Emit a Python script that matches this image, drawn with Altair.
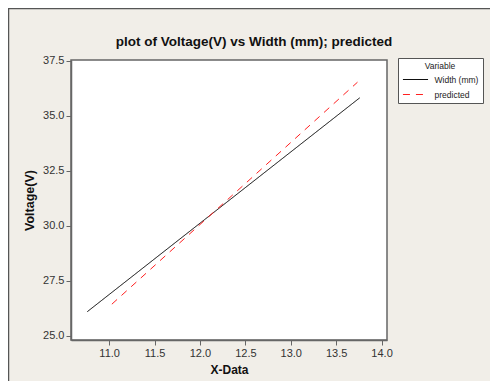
import altair as alt
import pandas as pd

series = ["Width (mm)", "Width (mm)", "predicted", "predicted"]
x_vals = [10.76, 13.76, 11.03, 13.735]
y_vals = [26.09, 35.82, 26.43, 36.53]
title_text = "plot of Voltage(V) vs Width (mm); predicted"

df = pd.DataFrame({"Variable": series, "X-Data": x_vals, "Voltage": y_vals})

W, H = 316, 280
PL, PT, PR, PB = 63, 52, 103, 41

leg = alt.Legend(title="Variable", orient="none", legendX=327, legendY=-2,
                 labelExpr="datum.label + '\u00a0\u00a0\u00a0\u00a0\u00a0\u00a0\u00a0'")

lines = alt.Chart(df).mark_line(strokeWidth=1, clip=True).encode(
    x=alt.X("X-Data:Q", scale=alt.Scale(domain=[10.58, 14.06], nice=False, zero=False),
            axis=alt.Axis(values=[11.0, 11.5, 12.0, 12.5, 13.0, 13.5, 14.0], format=".1f", title="X-Data")),
    y=alt.Y("Voltage:Q", scale=alt.Scale(domain=[24.8, 37.54], nice=False, zero=False),
            axis=alt.Axis(values=[25.0, 27.5, 30.0, 32.5, 35.0, 37.5], format=".1f", title="Voltage(V)")),
    color=alt.Color("Variable:N", scale=alt.Scale(domain=["Width (mm)", "predicted"], range=["black", "#ff2020"]),
                    legend=leg),
    strokeDash=alt.StrokeDash("Variable:N", scale=alt.Scale(domain=["Width (mm)", "predicted"], range=[[1, 0], [7, 6]]),
                              legend=leg),
    detail="Variable:N",
)

one = pd.DataFrame({"a": [0]})
top_border = alt.Chart(one).mark_rule(color="#555555", strokeWidth=1.5, clip=False).encode(
    x=alt.value(-PL), x2=alt.value(W + PR), y=alt.value(-PT + 0.5))
left_border = alt.Chart(one).mark_rule(color="#555555", strokeWidth=1.5, clip=False).encode(
    x=alt.value(-PL + 0.5), y=alt.value(-PT), y2=alt.value(H + PB))
title = alt.Chart(one).mark_text(font="Liberation Sans", fontSize=13.5, fontWeight="bold", color="#111111",
                                 align="center", baseline="alphabetic", clip=False).encode(
    x=alt.value(W / 2 + 25), y=alt.value(-14), text=alt.value(title_text))

chart = alt.layer(lines, top_border, left_border, title).properties(
    width=W, height=H,
    padding={"left": PL, "top": PT, "right": PR, "bottom": PB},
    autosize=alt.AutoSizeParams(type="none"),
    background="#F1EEE8",
).configure_view(
    stroke="#666666", strokeWidth=1.5, fill="white"
).configure_axis(
    labelFont="Liberation Sans", labelFontSize=11, labelColor="#333333",
    titleFont="Liberation Sans", titleFontSize=12, titleFontWeight="bold", titleColor="#111111",
    domainColor="#666666", domainWidth=1.5, tickColor="#666666", tickSize=5, tickWidth=1,
    grid=False, labelPadding=2,
).configure_axisX(titlePadding=6).configure_axisY(titlePadding=6, titleFontSize=12.5).configure_legend(
    fillColor="white", strokeColor="#555555", padding=4,
    titleFont="Liberation Sans", titleFontSize=8.5, titleFontWeight="normal", titleColor="#222222",
    titleAnchor="middle", titleAlign="center",
    labelFont="Liberation Sans", labelFontSize=8.5, labelColor="#222222",
    symbolType="M-3,0H3", symbolSize=70, symbolStrokeWidth=1, symbolOffset=8.5, rowPadding=5, titlePadding=4,
    labelOffset=14,
)

chart.save("out.html", embed_options={"renderer": "svg", "actions": False})
